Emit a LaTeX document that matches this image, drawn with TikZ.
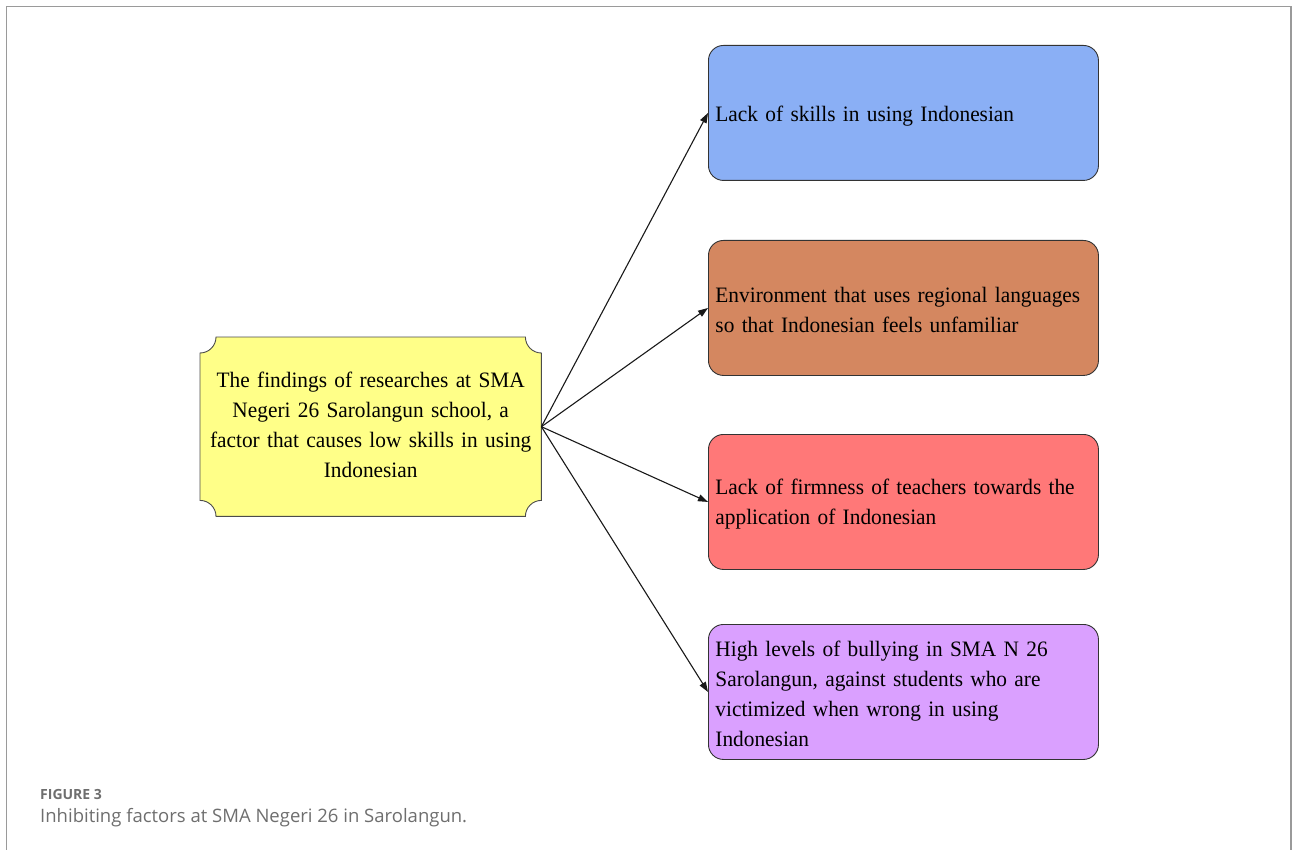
\documentclass[tikz,border=0pt]{standalone}
\usepackage{fontspec}
\setmainfont[FakeStretch=0.97,WordSpace=0.8]{Liberation Serif}
\newfontfamily\capfont{Open Sans}
\usetikzlibrary{arrows.meta}
\definecolor{c1}{HTML}{8AAFF5}
\definecolor{c2}{HTML}{D48760}
\definecolor{c3}{HTML}{FF7878}
\definecolor{c4}{HTML}{DAA0FF}
\definecolor{cy}{HTML}{FFFF88}
\definecolor{frame}{HTML}{9A9A9A}
\definecolor{capgray}{HTML}{6E6E6E}
\tikzset{
  factor/.style={draw=black!80, line width=0.9pt, rounded corners=15pt,
    minimum width=390pt, minimum height=135pt, inner sep=0pt, anchor=north west},
  factortext/.style={text width=376pt, inner sep=0pt, align=left,
    font=\fontsize{22}{30}\selectfont},
  link/.style={-{Triangle[length=10pt,width=7pt]}, line width=1.1pt, black!90},
  srcbox/.style={minimum width=341pt, minimum height=179pt, inner sep=0pt,
    anchor=north west},
}
\hyphenpenalty=10000
\begin{document}
\begin{tikzpicture}[x=1pt,y=-1pt]
\useasboundingbox (0,0) rectangle (1292,850);
% frame
\draw[frame, line width=1.5pt] (6.5,850) -- (6.5,6.5) -- (1291,6.5) -- (1291,850);
% central box
\node[srcbox] (src) at (200,337) {};
\fill[cy, draw=black!70, line width=0.9pt] ([yshift=-16pt]src.north west) arc[start angle=-90,end angle=0,radius=16pt]
  -- ([xshift=-16pt]src.north east) arc[start angle=180,end angle=270,radius=16pt]
  -- ([yshift=16pt]src.south east) arc[start angle=90,end angle=180,radius=16pt]
  -- ([xshift=16pt]src.south west) arc[start angle=0,end angle=90,radius=16pt] -- cycle;
\node[font=\fontsize{22}{30}\selectfont, text width=340pt, align=center, yshift=2pt] (srctext) at (src.center)
  {The findings of researches at SMA\\ Negeri 26 Sarolangun school, a\\ factor that causes low skills in using\\ Indonesian};
% factor boxes
\node[factor, fill=c1] (f1) at (708,45) {};
\node[factor, fill=c2] (f2) at (708,240) {};
\node[factor, fill=c3] (f3) at (708,434) {};
\node[factor, fill=c4] (f4) at (708,624) {};
\node[factortext] (t1) at ([yshift=-3pt]f1.center) {Lack of skills in using Indonesian};
\node[factortext] (t2) at ([yshift=-2pt]f2.center) {Environment that uses regional languages\\ so that Indonesian feels unfamiliar};
\node[factortext] (t3) at ([yshift=-2pt]f3.center) {Lack of firmness of teachers towards the\\ application of Indonesian};
\node[factortext] (t4) at ([yshift=-2pt]f4.center) {High levels of bullying in SMA N 26\\ Sarolangun, against students who are\\ victimized when wrong in using\\ Indonesian};
% connectors
\draw[link] (src.east) -- (f1.west);
\draw[link] (src.east) -- (f2.west);
\draw[link] (src.east) -- (f3.west);
\draw[link] (src.east) -- (f4.west);
% caption
\node[anchor=base west, inner sep=0pt, text=capgray, font=\capfont\bfseries\fontsize{14}{16}\selectfont] (fig) at (40,799) {FIGURE 3};
\node[anchor=base west, inner sep=0pt, text=capgray, font=\capfont\fontsize{18.5}{22}\selectfont] (cap) at (40,822) {Inhibiting factors at SMA Negeri 26 in Sarolangun.};
\end{tikzpicture}
\end{document}
